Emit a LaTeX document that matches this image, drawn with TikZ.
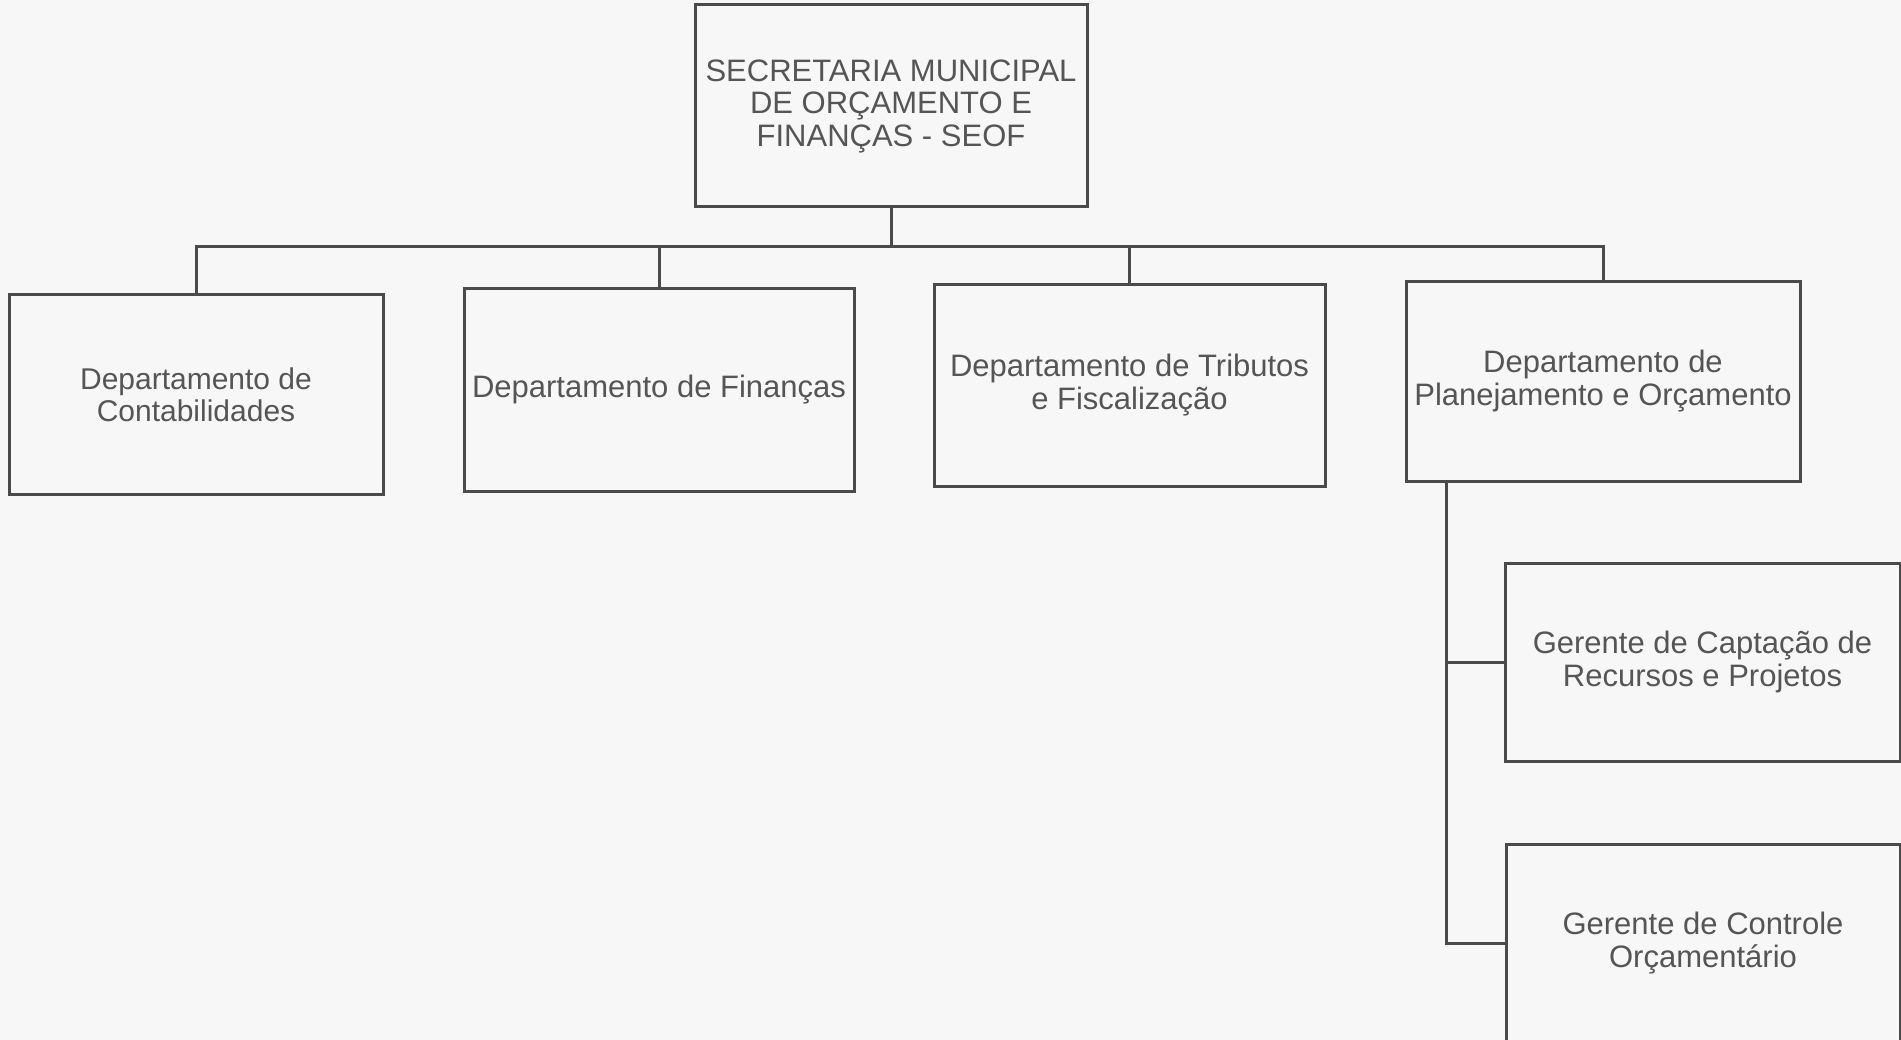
\documentclass[tikz,border=0pt]{standalone}
\usepackage{fontspec}
\setmainfont{Liberation Sans}
\definecolor{bg}{HTML}{F7F7F8}
\definecolor{ink}{HTML}{555555}
\definecolor{linec}{HTML}{4A4A4A}
\begin{document}
\begin{tikzpicture}[x=1pt,y=-1pt,
  box/.style={draw=linec, line width=3pt, inner sep=0pt, outer sep=0pt, align=center,
    text=ink, font=\fontsize{31}{33}\selectfont},
  conn/.style={draw=linec, line width=3pt}]
\fill[bg] (0,0) rectangle (1901,1040);
\useasboundingbox (0,0) rectangle (1901,1040);
\node[box, minimum width=392pt, minimum height=202pt, font=\fontsize{31}{32.5}\selectfont] (top) at (891,106)
  {SECRETARIA MUNICIPAL\\DE ORÇAMENTO E\\FINANÇAS - SEOF};
\node[box, minimum width=374pt, minimum height=199pt, font=\fontsize{30}{32}\selectfont] (d1) at (196,394.5)
  {Departamento de\\Contabilidades};
\node[box, minimum width=390pt, minimum height=202pt] (d2) at (659,390)
  {Departamento de Finanças};
\node[box, minimum width=391pt, minimum height=201pt] (d3) at (1129.5,385.5)
  {Departamento de Tributos\\e Fiscalização};
\node[box, minimum width=394pt, minimum height=199pt] (d4) at (1603,381.5)
  {Departamento de\\Planejamento e Orçamento};
\node[box, minimum width=395pt, minimum height=198pt] (s1) at (1702.5,662)
  {Gerente de Captação de\\Recursos e Projetos};
\node[box, minimum width=394pt, minimum height=198pt] (s2) at (1703,943)
  {Gerente de Controle\\Orçamentário};
\coordinate (bus) at (0,247);
\draw[conn] (top.south) -- (top.south |- bus);
\draw[conn] (d1.north) -- (d1.north |- bus) -- (d4.north |- bus) -- (d4.north);
\draw[conn] (d2.north) -- (d2.north |- bus);
\draw[conn] (d3.north) -- (d3.north |- bus);
\coordinate (vl) at ([xshift=40pt]d4.south west);
\draw[conn] (vl) |- (s1.west);
\draw[conn] (vl) |- (s2.west);
\end{tikzpicture}
\end{document}
